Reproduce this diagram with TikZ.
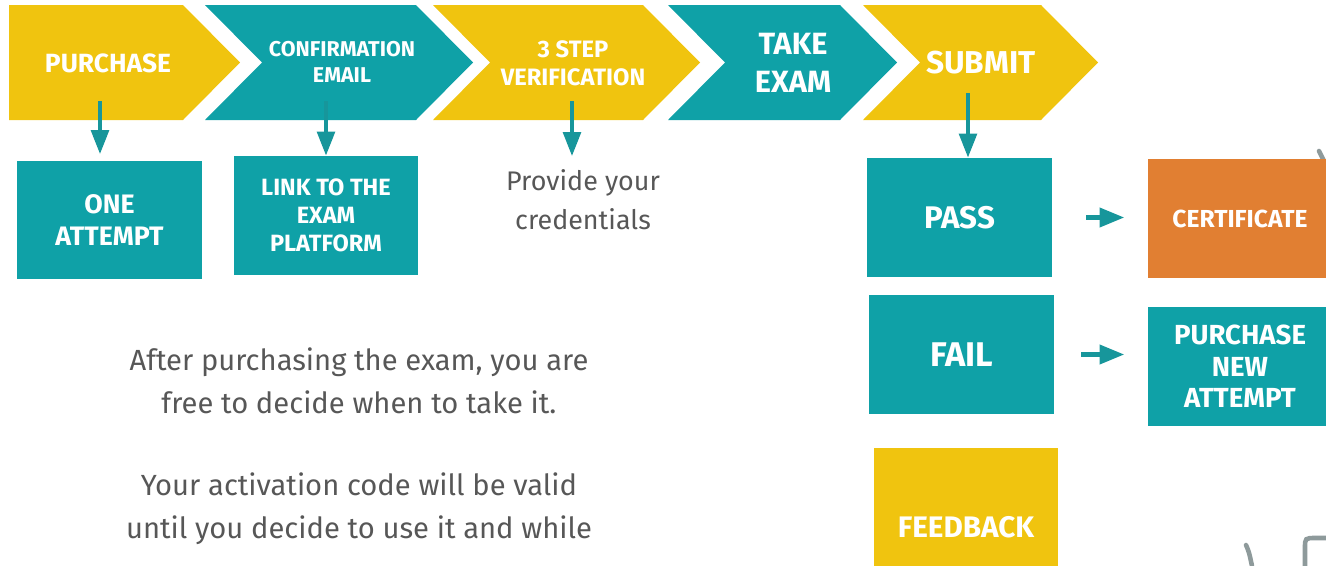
\documentclass[tikz,border=0pt]{standalone}
\usepackage{fontspec}
\setmainfont{Fira Sans}
\usetikzlibrary{arrows.meta}

\definecolor{gold}{HTML}{F0C40F}
\definecolor{examteal}{HTML}{0FA1A7}
\definecolor{arrowteal}{HTML}{17969B}
\definecolor{certorange}{HTML}{E17F32}
\definecolor{textgray}{HTML}{575757}
\definecolor{doodlegray}{HTML}{8E9A9B}

\newcommand\setfs[2]{\fontsize{#1}{#2}\selectfont}

\tikzset{
  steptext/.style={text=white, align=center},
  box/.style={fill=examteal, text=white, align=center, inner sep=0pt,
    minimum width=3.7cm, minimum height=2.38cm},
  note/.style={text=textgray, align=center},
  varr/.style={draw=arrowteal, line width=2.3pt, -{Triangle[length=13.7pt,width=10pt]}},
  harr/.style={draw=arrowteal, line width=2.3pt, -{Triangle[length=14pt,width=10.8pt]}},
  doodle/.style={draw=doodlegray, line width=2.6pt, line cap=round}
}

\begin{document}
\begin{tikzpicture}[x=0.02cm, y=-0.02cm]
  \useasboundingbox (0,0) rectangle (1326,565);

  % chevrons along the top
  \foreach \l/\r/\n/\c in {9/183/0/gold, 205/416/57/examteal, 433/643/57/gold,
                           668/840/57/examteal, 863/1041/57/gold}
    \fill[\c] (\l,5) -- (\r,5) -- ({\r+57},62.5) -- (\r,120) -- (\l,120) -- ({\l+\n},62.5) -- cycle;

  \node[steptext, font=\bfseries\setfs{15}{17}] (purchase) at (108,63) {PURCHASE};
  \node[steptext, font=\bfseries\setfs{12.2}{14.8}] (confirm) at (342,62) {CONFIRMATION\\EMAIL};
  \node[steptext, font=\bfseries\setfs{13.5}{16}] (verify) at (573,63) {3 STEP\\VERIFICATION};
  \node[steptext, font=\bfseries\setfs{17.5}{21.6}] (take) at (793,63) {TAKE\\EXAM};
  \node[steptext, font=\bfseries\setfs{18}{20}] (submit) at (981,63) {SUBMIT};

  % boxes below
  \node[box, font=\bfseries\setfs{15.2}{18}] (one) at (109.5,220) {ONE\\ATTEMPT};
  \node[box, font=\bfseries\setfs{13.4}{16}] (link) at (326,215.5) {LINK TO THE\\EXAM\\PLATFORM};
  \node[note, font=\setfs{15.3}{22.2}] (provide) at (583,200) {Provide your\\credentials};

  \draw[doodle] (1319,151) -- (1325,163);
  \node[box, font=\bfseries\setfs{17.8}{20}] (pass) at (959.5,217.5) {PASS};
  \node[box, fill=certorange, font=\bfseries\setfs{14}{16}] (cert) at (1240,218.5) {CERTIFICATE};
  \node[box, font=\bfseries\setfs{19.5}{22}] (fail) at (961.5,354.5) {FAIL};
  \node[box, font=\bfseries\setfs{15.7}{18}] (newtry) at (1240,366.5) {PURCHASE\\NEW\\ATTEMPT};
  \node[box, fill=gold, minimum height=3.16cm, font=\bfseries\setfs{16.9}{18}] (feedback) at (966,527) {FEEDBACK};

  \node[note, font=\setfs{16.6}{24.5}] (after) at (359,381) {After purchasing the exam, you are\\free to decide when to take it.};
  \node[note, font=\setfs{16.6}{24.5}] (valid) at (359,509) {Your activation code will be valid\\until you decide to use it and while};

  % arrows
  \coordinate (a1) at (100,101);
  \coordinate (a2) at (326,101);
  \coordinate (a3) at (572,101);
  \coordinate (a4) at (968,93);
  \draw[varr, shorten >=0.12cm] (a1) -- (a1 |- one.north);
  \draw[varr] (a2) -- (a2 |- link.north);
  \draw[varr, shorten >=0.15cm] (a3) -- (a3 |- provide.north);
  \draw[varr] (a4) -- (a4 |- pass.north);
  \draw[harr, shorten <=0.68cm, shorten >=0.46cm] (pass.east) -- (pass.east -| cert.west);
  \draw[harr, shorten <=0.54cm, shorten >=0.46cm] (fail.east) -- (fail.east -| newtry.west);

  \draw[doodle] (1246,545) .. controls (1249,552) .. (1252,566);
  \draw[doodle] (1305,566) -- (1305,548) .. controls (1305,538) .. (1316,538) -- (1327,538);
\end{tikzpicture}
\end{document}
